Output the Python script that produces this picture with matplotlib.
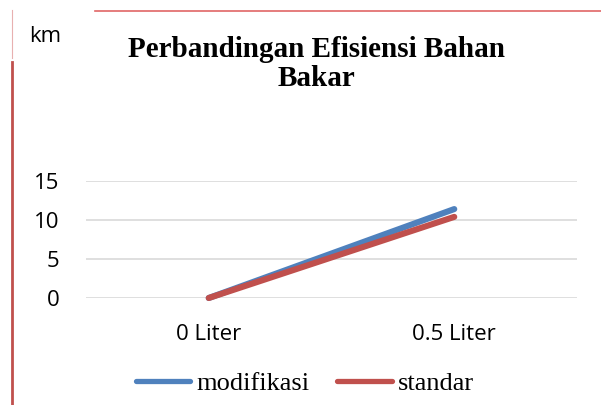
import matplotlib
matplotlib.use("Agg")
import matplotlib.pyplot as plt
from matplotlib.lines import Line2D

categories = ["0 Liter", "0.5 Liter"]
modifikasi = [0, 11.4]
standar = [0, 10.4]
yticks = [0, 5, 10, 15]

blue = "#4F81BD"
red = "#C0504D"

fig = plt.figure(figsize=(6.01, 4.05), dpi=100)
W, H = 601, 405
ax = fig.add_axes([86 / W, 1 - 298 / H, (577 - 86) / W, (298 - 181) / H])

x = list(range(len(categories)))
ax.plot(x, modifikasi, color=blue, lw=4.4, solid_capstyle="round", label="modifikasi")
ax.plot(x, standar, color=red, lw=4.4, solid_capstyle="round", label="standar")

ax.set_xlim(-0.5, len(categories) - 0.5)
ax.set_ylim(0, 15)
ax.set_yticks(yticks)
ax.set_yticklabels([str(v) for v in yticks], fontsize=16, family="Open Sans")
ax.set_xticks(x)
ax.set_xticklabels(categories, fontsize=16, family="Open Sans")
ax.tick_params(axis="y", length=0, pad=19)
ax.tick_params(axis="x", length=0, pad=19)
ax.grid(axis="y", color="#D9D9D9", lw=1.2)
ax.set_axisbelow(True)
for s in ax.spines.values():
    s.set_visible(False)
for ln in ax.lines:
    ln.set_clip_on(False)

fig.text(316 / W, 1 - 64 / H, "Perbandingan Efisiensi Bahan\nBakar", ha="center", va="center",
         fontsize=21, fontweight="bold", family="Liberation Serif", linespacing=1.1)
fig.text(29 / W, 1 - 37 / H, "km", ha="left", va="center", fontsize=16, family="Open Sans")

handles = [Line2D([], [], color=blue, lw=3.8, solid_capstyle="round"),
           Line2D([], [], color=red, lw=3.8, solid_capstyle="round")]
fig.legend(handles, ["modifikasi", "standar"], loc="center", bbox_to_anchor=(305 / W, 1 - 383 / H),
           ncol=2, frameon=False, prop={"family": "Liberation Serif", "size": 19},
           handlelength=2.05, handletextpad=0.23, columnspacing=1.06, borderpad=0, borderaxespad=0)

# document border artifacts
fig.add_artist(Line2D([95 / W, 1], [1 - 11 / H, 1 - 11 / H], color="#E06666", lw=1.2, transform=fig.transFigure))
fig.add_artist(Line2D([12 / W, 12 / W], [1 - 10 / H, 1 - 58 / H], color="#E8B0B0", lw=0.8, transform=fig.transFigure))
fig.add_artist(Line2D([12 / W, 12 / W], [1 - 62 / H, 0], color="#C0504D", lw=2, transform=fig.transFigure))

fig.savefig("out.png", dpi=100)
